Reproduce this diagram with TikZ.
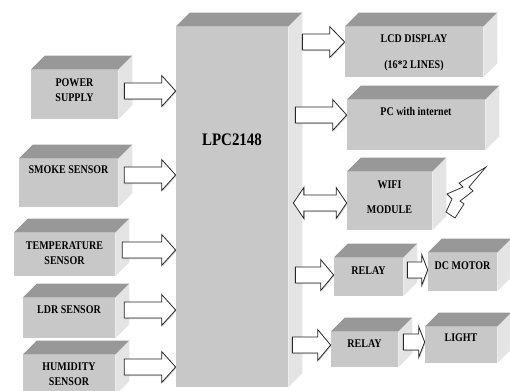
\documentclass[tikz,border=0pt]{standalone}
\usepackage{fontspec}
\setmainfont{Liberation Serif}[FakeStretch=0.85]
\usetikzlibrary{calc}
\usetikzlibrary{shadows}
\pgfdeclarelayer{edgelayer}
\pgfdeclarelayer{nodelayer}
\pgfsetlayers{edgelayer,nodelayer,main}
\definecolor{frontgray}{RGB}{200,200,200}
\definecolor{topgray}{RGB}{152,152,152}
\definecolor{sidegray}{RGB}{228,228,228}
\newcommand{\boxfont}{\bfseries\fontsize{6.7}{8.5}\selectfont}
\newcommand{\chipfont}{\bfseries\fontsize{10}{12}\selectfont}
\newcommand{\shaft}{0.16cm}
\newcommand{\flare}{0.31cm}
\tikzstyle{block}=[rectangle,fill=frontgray,inner sep=0pt]
\tikzstyle{tag}=[font=\boxfont,align=center,text=black]
\tikzstyle{topface}=[fill=topgray]
\tikzstyle{sideface}=[fill=sidegray]
\tikzstyle{pipe}=[draw=black!85,fill=white,line width=0.45pt,drop shadow={shadow xshift=0.5pt,shadow yshift=-0.6pt,opacity=0.35}]
\tikzstyle{bolt}=[draw=black!80,fill=white,line width=0.45pt]
\tikzset{
	agap/.store in=\agap, ashift/.store in=\ashift, tiplen/.store in=\tiplen,
	agap=0.12cm, ashift=0cm, tiplen=0.28cm,
	feedin/.style={style=pipe, to path={let \p1=(\tikztostart.east), \p2=(\tikztotarget.west) in
		(\x1+\agap,\y1+\ashift+\shaft) -- (\x2-\tiplen,\y1+\ashift+\shaft) -- (\x2-\tiplen,\y1+\ashift+\flare)
		-- (\x2,\y1+\ashift) -- (\x2-\tiplen,\y1+\ashift-\flare) -- (\x2-\tiplen,\y1+\ashift-\shaft)
		-- (\x1+\agap,\y1+\ashift-\shaft) -- cycle}},
	feedout/.style={style=pipe, to path={let \p1=(\tikztostart.east), \p2=(\tikztotarget.west) in
		(\x1+\agap,\y2+\ashift+\shaft) -- (\x2-\tiplen,\y2+\ashift+\shaft) -- (\x2-\tiplen,\y2+\ashift+\flare)
		-- (\x2,\y2+\ashift) -- (\x2-\tiplen,\y2+\ashift-\flare) -- (\x2-\tiplen,\y2+\ashift-\shaft)
		-- (\x1+\agap,\y2+\ashift-\shaft) -- cycle}},
	duplex/.style={style=pipe, to path={let \p1=(\tikztostart.east), \p2=(\tikztotarget.west) in
		(\x1+\agap,\y2+\ashift) -- (\x1+\agap+\tiplen,\y2+\ashift+\flare) -- (\x1+\agap+\tiplen,\y2+\ashift+\shaft)
		-- (\x2-\tiplen,\y2+\ashift+\shaft) -- (\x2-\tiplen,\y2+\ashift+\flare) -- (\x2,\y2+\ashift)
		-- (\x2-\tiplen,\y2+\ashift-\flare) -- (\x2-\tiplen,\y2+\ashift-\shaft)
		-- (\x1+\agap+\tiplen,\y2+\ashift-\shaft) -- (\x1+\agap+\tiplen,\y2+\ashift-\flare) -- cycle}},
}
\begin{document}
\begin{tikzpicture}
	\useasboundingbox (0,0) rectangle (10.2,-7.8);
	\begin{pgfonlayer}{nodelayer}
		\node [style=block, minimum width=2.24cm, minimum height=7.2cm, label={[style=tag, font=\chipfont, yshift=1.34cm]center:LPC2148}] (0) at (4.64, -4.14) {};
		\node [style=block, minimum width=1.74cm, minimum height=0.98cm, label={[style=tag, yshift=0.09cm]center:POWER\\SUPPLY}] (1) at (1.49, -1.89) {};
		\node [style=block, minimum width=1.98cm, minimum height=0.96cm, label={[style=tag, yshift=0.26cm]center:SMOKE SENSOR}] (2) at (1.37, -3.66) {};
		\node [style=block, minimum width=2.02cm, minimum height=0.86cm, label={[style=tag, yshift=0.03cm]center:TEMPERATURE\\SENSOR}] (3) at (1.29, -5.09) {};
		\node [style=block, minimum width=1.84cm, minimum height=0.8cm, label={[style=tag, yshift=0.16cm]center:LDR SENSOR}] (4) at (1.38, -6.36) {};
		\node [style=block, minimum width=1.84cm, minimum height=0.8cm, label={[style=tag, yshift=0.01cm]center:HUMIDITY\\SENSOR}] (5) at (1.38, -7.5) {};
		\node [style=block, minimum width=2.76cm, minimum height=1.0cm, label={[style=tag, yshift=-0.02cm]center:LCD DISPLAY\\[6.5pt](16*2 LINES)}] (6) at (8.28, -1.04) {};
		\node [style=block, minimum width=2.76cm, minimum height=1.0cm, label={[style=tag, yshift=0.28cm]center:PC with internet}] (7) at (8.32, -2.5) {};
		\node [style=block, minimum width=1.7cm, minimum height=1.16cm, label={[style=tag, yshift=0.08cm]center:WIFI\\[6pt]MODULE}] (8) at (7.79, -4.02) {};
		\node [style=block, minimum width=1.38cm, minimum height=0.76cm, label={[style=tag, yshift=0.13cm]center:RELAY}] (9) at (7.37, -5.54) {};
		\node [style=block, minimum width=1.38cm, minimum height=0.76cm, label={[style=tag, yshift=0.13cm]center:DC MOTOR}] (10) at (9.25, -5.44) {};
		\node [style=block, minimum width=1.34cm, minimum height=0.7cm, label={[style=tag, yshift=0.12cm]center:RELAY}] (11) at (7.29, -6.99) {};
		\node [style=block, minimum width=1.44cm, minimum height=0.72cm, label={[style=tag, yshift=0.15cm]center:LIGHT}] (12) at (9.22, -6.9) {};
	\end{pgfonlayer}
	\begin{pgfonlayer}{edgelayer}
		\foreach \n in {0,...,12} {
			\fill [style=topface] (\n.north west) -- ++(0.28,0.28) -- ($(\n.north east)+(0.28,0.28)$) -- (\n.north east) -- cycle;
			\fill [style=sideface] (\n.north east) -- ++(0.28,0.28) -- ($(\n.south east)+(0.28,0.28)$) -- (\n.south east) -- cycle;
		}
		\draw [style=feedin, agap=0.12cm, ashift=0.07cm] (1) to (0);
		\draw [style=feedin, agap=0.12cm, ashift=0.16cm] (2) to (0);
		\draw [style=feedin, agap=0.14cm, ashift=0.09cm] (3) to (0);
		\draw [style=feedin, agap=0.18cm, ashift=0.16cm] (4) to (0);
		\draw [style=feedin, agap=0.18cm, ashift=0.16cm] (5) to (0);
		\draw [style=feedout, agap=0.28cm, ashift=0.2cm, tiplen=0.3cm] (0) to (6);
		\draw [style=feedout, agap=0.14cm, ashift=0.2cm] (0) to (7);
		\draw [style=duplex, agap=0.1cm, ashift=-0.04cm, tiplen=0.21cm] (0) to (8);
		\draw [style=feedout, agap=0.14cm, ashift=0.04cm, tiplen=0.26cm] (0) to (9);
		\draw [style=feedout, agap=0.08cm, ashift=0.09cm, tiplen=0.26cm] (0) to (11);
		\draw [style=feedin, agap=0.08cm, ashift=0.14cm, tiplen=0.12cm] (9) to (10);
		\draw [style=feedin, agap=0.1cm, ashift=0.15cm, tiplen=0.12cm] (11) to (12);
	\end{pgfonlayer}
	\draw [style=bolt] (9.72,-3.34) -- (9.18,-3.66) -- (9.26,-3.74) -- (8.94,-3.88) -- (9.04,-3.98) -- (8.92,-4.24)
		-- (9.10,-4.36) -- (9.28,-4.08) -- (9.20,-4.02) -- (9.46,-3.82) -- (9.38,-3.74) -- cycle;
\end{tikzpicture}
\end{document}
